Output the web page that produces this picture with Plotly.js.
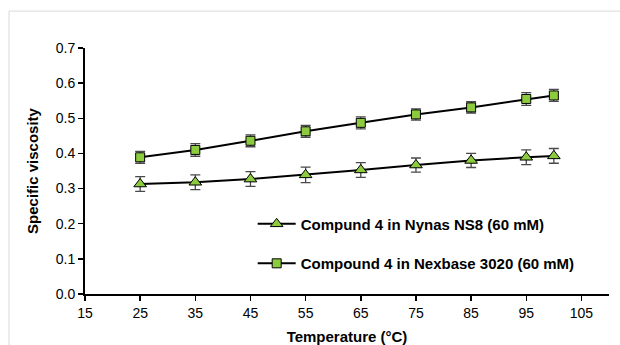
<!DOCTYPE html>
<html>
<head>
<meta charset="utf-8">
<script src="https://cdn.plot.ly/plotly-3.0.1.min.js"></script>
<style>
html,body{margin:0;padding:0;background:#fff;}
#chart{width:620px;height:345px;}
</style>
</head>
<body>
<div id="chart"></div>
<script>
const temperatures = [25, 35, 45, 55, 65, 75, 85, 95, 100];
const nynasValues = [0.313, 0.318, 0.327, 0.339, 0.353, 0.367, 0.380, 0.389, 0.393];
const nynasErrors = [0.021, 0.021, 0.021, 0.022, 0.021, 0.020, 0.020, 0.021, 0.021];
const nexbaseValues = [0.389, 0.410, 0.436, 0.463, 0.487, 0.511, 0.531, 0.555, 0.565];
const nexbaseErrors = [0.017, 0.018, 0.017, 0.017, 0.017, 0.016, 0.016, 0.018, 0.017];
const seriesNames = ["Compund 4 in Nynas NS8 (60 mM)", "Compound 4 in Nexbase 3020 (60 mM)"];
const xTicks = [15, 25, 35, 45, 55, 65, 75, 85, 95, 105];
const yTicks = [0, 0.1, 0.2, 0.3, 0.4, 0.5, 0.6, 0.7];

const green = '#8CCB3E';
const errStyle = (arr) => ({type: 'data', array: arr, visible: true, color: '#4a4a4a', thickness: 1.3, width: 5});

const traces = [
  {
    x: temperatures, y: nynasValues, name: '<b>' + seriesNames[0] + '</b>', legendgroup: 'a',
    mode: 'lines+markers', type: 'scatter',
    line: {color: '#000', width: 2},
    marker: {symbol: 'triangle-up', size: 11, color: green, line: {color: '#000', width: 1}},
    error_y: errStyle(nynasErrors)
  },
  {
    x: temperatures, y: nexbaseValues, name: '<b>' + seriesNames[1] + '</b>', legendgroup: 'b',
    mode: 'lines+markers', type: 'scatter',
    line: {color: '#000', width: 2},
    marker: {symbol: 'square', size: 9, color: green, line: {color: '#000', width: 1}},
    error_y: errStyle(nexbaseErrors)
  }
];

const layout = {
  width: 620, height: 345,
  margin: {l: 85, r: 11, t: 48, b: 51},
  paper_bgcolor: '#fff', plot_bgcolor: '#fff',
  font: {family: '"Liberation Sans", Arial, sans-serif', color: '#000', size: 14},
  xaxis: {
    range: [15, 110], tickvals: xTicks, ticktext: xTicks.map(String),
    showgrid: false, zeroline: false, showline: true, linecolor: '#000', linewidth: 2,
    ticks: 'outside', ticklen: 5, tickwidth: 1.5, tickcolor: '#000',
    tickfont: {size: 14},
    title: {text: '<b>Temperature (°C)</b>', font: {size: 15}, standoff: 13}
  },
  yaxis: {
    range: [0, 0.7], tickvals: yTicks, ticktext: yTicks.map(v => v.toFixed(1)),
    showgrid: false, zeroline: false, showline: true, linecolor: '#000', linewidth: 2,
    ticks: 'outside', ticklen: 5, tickwidth: 1.5, tickcolor: '#000',
    tickfont: {size: 14},
    title: {text: '<b>Specific viscosity</b>', font: {size: 15}, standoff: 13}
  },
  showlegend: true,
  legend: {
    x: 0.320, y: 0.205, xanchor: 'left', yanchor: 'middle',
    bgcolor: 'rgba(0,0,0,0)', borderwidth: 0,
    font: {size: 15, family: '"Liberation Sans", Arial, sans-serif'},
    traceorder: 'grouped', tracegroupgap: 17, itemwidth: 38
  },
  shapes: [
    {type: 'line', xref: 'paper', yref: 'paper', x0: -0.145, x1: 1.2, y0: 1.15, y1: 1.15, line: {color: '#d9d9d9', width: 1}},
    {type: 'line', xref: 'paper', yref: 'paper', x0: -0.145, x1: -0.145, y0: -0.3, y1: 1.15, line: {color: '#d9d9d9', width: 1}}
  ]
};

Plotly.newPlot('chart', traces, layout, {displayModeBar: false, staticPlot: true});
</script>
</body>
</html>
